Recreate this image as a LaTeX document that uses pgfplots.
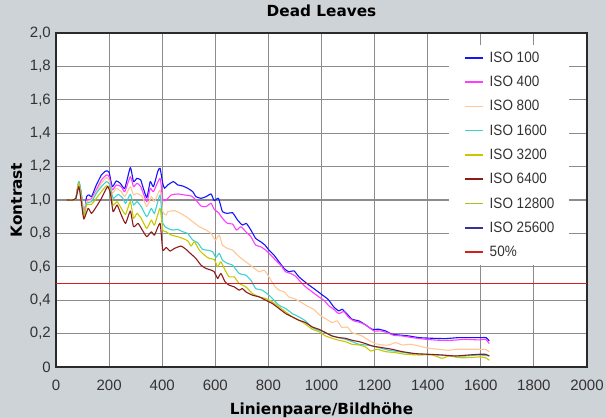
\documentclass[border=0pt]{standalone}
\usepackage{fontspec}
\setmainfont{Liberation Sans}
\newfontfamily\lblfont{DejaVu Sans}
\newfontfamily\legfont[FakeStretch=0.9]{Liberation Sans}
\usepackage{pgfplots}
\pgfplotsset{compat=1.18}
\definecolor{bgc}{RGB}{206,211,216}
\definecolor{gridc}{RGB}{140,140,140}
\definecolor{framec}{RGB}{42,42,42}
\definecolor{tickc}{RGB}{51,51,51}
\definecolor{isoA}{RGB}{20,20,255}
\definecolor{isoB}{RGB}{255,60,255}
\definecolor{isoC}{RGB}{255,200,150}
\definecolor{isoD}{RGB}{60,210,210}
\definecolor{isoE}{RGB}{200,200,0}
\definecolor{isoF}{RGB}{140,28,28}
\definecolor{isoG}{RGB}{160,200,20}
\definecolor{isoH}{RGB}{51,51,153}
\definecolor{refred}{RGB}{215,30,30}
\begin{document}
\begin{tikzpicture}
\fill[bgc] (-56bp,-51bp) rectangle (550bp,367bp);
\begin{axis}[
  at={(0,0)}, anchor=south west,
  scale only axis, width=531bp, height=334bp,
  xmin=0, xmax=2000, ymin=0, ymax=2,
  xtick={0,200,400,600,800,1000,1200,1400,1600,1800,2000},
  ytick={0,0.2,0.4,0.6,0.8,1.0,1.2,1.4,1.6,1.8,2.0},
  yticklabels={0,{0,2},{0,4},{0,6},{0,8},{1,0},{1,2},{1,4},{1,6},{1,8},{2,0}},
  /pgf/number format/assume math mode=true,
  /pgf/number format/1000 sep={},
  grid=major,
  major grid style={draw=gridc, line width=1.1bp},
  major tick length=0pt,
  axis line style={draw=framec, line width=1.5bp},
  axis background/.style={fill=white},
  tick label style={font=\fontsize{15bp}{15bp}\selectfont, text=tickc},
  xticklabel style={anchor=base, yshift=-23bp},
  yticklabel style={anchor=east, inner sep=0pt, xshift=-5bp},
  title={Dead Leaves},
  title style={at={(axis description cs:0.5,1)}, anchor=base, yshift=11bp,
    font=\lblfont\bfseries\fontsize{15.3bp}{15.3bp}\selectfont},
  xlabel={Linienpaare/Bildhöhe},
  xlabel style={at={(axis description cs:0.5,0)}, anchor=base, yshift=-47bp,
    font=\lblfont\bfseries\fontsize{15.3bp}{15.3bp}\selectfont},
  ylabel={Kontrast},
  ylabel style={at={(axis description cs:0,0.5)}, anchor=base, yshift=34bp,
    font=\lblfont\bfseries\fontsize{15.3bp}{15.3bp}\selectfont},
  legend cell align=left,
  legend image code/.code={\draw[#1, line width=1.6bp] (0bp,0bp) -- (18bp,0bp);},
  legend style={at={(rel axis cs:0.740,0.964)}, anchor=north west,
    draw=none, fill=white, inner xsep=15bp, inner ysep=6bp,
    font=\legfont\fontsize{15bp}{15bp}\selectfont, text=tickc,
    nodes={inner sep=0pt, text height=11bp, text depth=2bp},
    row sep=11.3bp, column sep=6bp},
  every axis plot/.append style={line width=1.1bp, line join=round, smooth, tension=0.3},
]
\addplot[color=isoA] coordinates {
(40,1.0) (65,1.0) (75,1.01) (86,1.11) (96,1.03) (105,0.90) (115,1.02) (125,1.03) (134,1.02) (152,1.09) (171,1.15) (188,1.174) (200,1.166) (212,1.08) (227,1.114) (242,1.10) (259,1.07) (280,1.194) (292,1.11) (305,1.13) (319,1.12) (327,1.08) (342,1.014) (355,1.11) (367,1.08) (384,1.174) (392,1.19) (402,1.10) (409,1.07) (421,1.09) (442,1.11) (459,1.09) (477,1.084) (496,1.07) (515,1.05) (527,1.02) (546,1.01) (565,1.02) (584,1.036) (596,0.996) (612,1.01) (627,0.93) (646,0.92) (665,0.924) (684,0.88) (702,0.85) (717,0.86) (734,0.82) (752,0.77) (771,0.75) (787,0.73) (802,0.70) (821,0.67) (840,0.63) (859,0.59) (877,0.57) (896,0.576) (915,0.54) (945,0.50) (975,0.465) (1000,0.435) (1025,0.405) (1046,0.36) (1065,0.336) (1078,0.346) (1097,0.316) (1115,0.286) (1141,0.276) (1166,0.252) (1191,0.226) (1216,0.226) (1241,0.216) (1266,0.196) (1291,0.192) (1329,0.186) (1367,0.176) (1417,0.172) (1467,0.17) (1517,0.176) (1567,0.176) (1605,0.176) (1620,0.176) (1632,0.156)
};
\addlegendentry{ISO 100}
\addplot[color=isoB] coordinates {
(40,1.0) (65,1.0) (75,1.01) (86,1.10) (96,1.02) (105,0.91) (115,1.0) (125,1.0) (134,1.01) (152,1.06) (171,1.12) (190,1.15) (200,1.14) (212,1.06) (227,1.09) (246,1.08) (259,1.05) (280,1.14) (292,1.08) (305,1.10) (319,1.08) (342,0.99) (355,1.07) (367,1.05) (392,1.13) (402,1.00) (415,1.0) (434,1.03) (459,1.036) (484,1.03) (509,1.024) (527,1.0) (546,0.964) (565,0.96) (584,0.98) (596,0.944) (612,0.924) (627,0.89) (646,0.86) (665,0.856) (680,0.82) (696,0.84) (715,0.81) (734,0.78) (752,0.73) (771,0.72) (790,0.70) (809,0.67) (827,0.64) (846,0.61) (865,0.57) (884,0.56) (902,0.544) (921,0.51) (940,0.48) (965,0.45) (990,0.42) (1009,0.40) (1028,0.366) (1046,0.346) (1065,0.32) (1084,0.332) (1103,0.296) (1122,0.276) (1147,0.266) (1172,0.246) (1197,0.216) (1222,0.216) (1247,0.206) (1272,0.19) (1304,0.186) (1341,0.176) (1392,0.166) (1442,0.16) (1492,0.16) (1542,0.166) (1593,0.162) (1618,0.166) (1632,0.14)
};
\addlegendentry{ISO 400}
\addplot[color=isoC] coordinates {
(40,1.0) (65,1.0) (75,1.01) (86,1.11) (96,1.02) (105,0.91) (115,0.99) (134,1.0) (152,1.05) (171,1.10) (190,1.134) (200,1.12) (212,1.04) (227,1.07) (246,1.05) (259,1.02) (280,1.08) (292,1.03) (305,1.04) (325,1.02) (342,0.96) (359,1.02) (371,0.99) (392,1.06) (402,0.93) (415,0.91) (421,0.93) (446,0.936) (465,0.924) (490,0.90) (515,0.87) (540,0.84) (565,0.82) (584,0.80) (600,0.76) (615,0.79) (627,0.73) (646,0.71) (665,0.70) (690,0.66) (715,0.63) (740,0.60) (765,0.57) (784,0.58) (802,0.54) (821,0.49) (840,0.46) (859,0.45) (877,0.42) (896,0.41) (921,0.39) (946,0.365) (971,0.345) (990,0.315) (1015,0.29) (1040,0.266) (1059,0.276) (1078,0.236) (1097,0.24) (1115,0.206) (1134,0.196) (1153,0.186) (1178,0.16) (1203,0.14) (1228,0.132) (1254,0.132) (1279,0.146) (1304,0.132) (1335,0.136) (1367,0.126) (1404,0.112) (1442,0.106) (1480,0.10) (1505,0.106) (1542,0.106) (1593,0.106) (1618,0.104) (1632,0.092)
};
\addlegendentry{ISO 800}
\addplot[color=isoD] coordinates {
(40,1.0) (65,1.0) (75,1.01) (86,1.11) (96,1.02) (105,0.90) (115,0.98) (134,0.99) (152,1.04) (171,1.08) (190,1.11) (202,1.094) (215,1.01) (234,1.034) (252,1.01) (262,0.98) (280,1.034) (292,0.97) (305,0.99) (321,0.96) (342,0.90) (359,0.95) (371,0.92) (392,1.03) (402,0.86) (421,0.83) (440,0.82) (459,0.824) (477,0.81) (496,0.80) (515,0.76) (534,0.744) (552,0.704) (571,0.70) (590,0.69) (602,0.656) (615,0.68) (627,0.64) (646,0.62) (665,0.61) (690,0.56) (715,0.55) (734,0.52) (752,0.47) (777,0.46) (802,0.43) (815,0.41) (840,0.37) (865,0.35) (890,0.32) (915,0.30) (940,0.276) (965,0.236) (990,0.22) (1015,0.206) (1040,0.186) (1065,0.176) (1090,0.166) (1115,0.152) (1141,0.136) (1166,0.132) (1191,0.126) (1216,0.116) (1254,0.10) (1291,0.092) (1341,0.08) (1392,0.076) (1442,0.072) (1492,0.066) (1542,0.066) (1593,0.072) (1632,0.066)
};
\addlegendentry{ISO 1600}
\addplot[color=isoE] coordinates {
(40,1.0) (65,1.0) (75,1.01) (86,1.10) (96,1.0) (105,0.89) (115,0.97) (134,0.974) (152,1.01) (171,1.05) (190,1.086) (202,1.07) (215,0.97) (230,0.99) (246,0.95) (262,0.914) (280,0.99) (292,0.89) (305,0.92) (321,0.89) (342,0.83) (359,0.88) (371,0.85) (392,0.95) (402,0.82) (415,0.81) (434,0.79) (459,0.78) (477,0.77) (496,0.756) (509,0.724) (521,0.75) (540,0.70) (559,0.67) (577,0.65) (596,0.644) (609,0.60) (621,0.63) (637,0.58) (652,0.54) (671,0.54) (690,0.50) (715,0.48) (740,0.44) (765,0.42) (790,0.41) (815,0.39) (840,0.36) (865,0.33) (890,0.30) (915,0.28) (940,0.256) (965,0.226) (990,0.212) (1015,0.186) (1040,0.172) (1065,0.16) (1090,0.152) (1115,0.136) (1141,0.132) (1166,0.12) (1185,0.096) (1210,0.106) (1241,0.092) (1279,0.086) (1316,0.076) (1367,0.072) (1417,0.072) (1454,0.052) (1480,0.066) (1517,0.056) (1555,0.056) (1593,0.06) (1618,0.056) (1632,0.04)
};
\addlegendentry{ISO 3200}
\addplot[color=isoF] coordinates {
(40,1.0) (65,1.0) (75,1.01) (86,1.08) (96,0.98) (105,0.886) (121,0.95) (134,0.92) (152,0.96) (171,1.01) (194,1.08) (205,1.04) (215,0.93) (230,0.97) (246,0.91) (262,0.86) (280,0.934) (292,0.84) (309,0.86) (325,0.82) (342,0.78) (359,0.81) (371,0.79) (392,0.86) (402,0.70) (415,0.716) (430,0.694) (446,0.71) (471,0.724) (490,0.704) (509,0.676) (527,0.65) (546,0.61) (565,0.59) (584,0.58) (596,0.57) (609,0.53) (621,0.56) (637,0.51) (652,0.49) (671,0.48) (690,0.46) (702,0.47) (715,0.45) (740,0.43) (765,0.42) (790,0.40) (815,0.38) (840,0.35) (865,0.32) (890,0.30) (915,0.28) (940,0.266) (965,0.24) (990,0.226) (1015,0.206) (1040,0.186) (1065,0.176) (1090,0.172) (1115,0.16) (1141,0.152) (1166,0.14) (1191,0.126) (1228,0.116) (1266,0.106) (1304,0.092) (1354,0.08) (1404,0.076) (1454,0.072) (1505,0.066) (1555,0.072) (1593,0.076) (1618,0.076) (1632,0.066)
};
\addlegendentry{ISO 6400}
\addlegendimage{color=isoG}
\addlegendentry{ISO 12800}
\addlegendimage{color=isoH}
\addlegendentry{ISO 25600}
\addplot[color=refred, line width=1.4bp, sharp plot] coordinates {(0,0.5) (2000,0.5)};
\addlegendentry{50\%}
\end{axis}
\pgfresetboundingbox
\useasboundingbox (-56bp,-51bp) rectangle (550bp,367bp);
\end{tikzpicture}
\end{document}
